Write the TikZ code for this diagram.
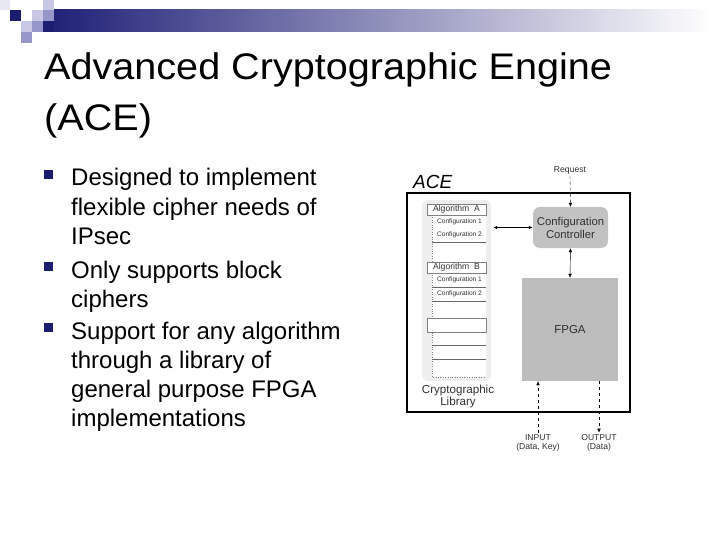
\documentclass[tikz,border=0pt]{standalone}
\usepackage{fontspec}
\setmainfont{Liberation Sans}
\usetikzlibrary{positioning,arrows.meta,calc}
\newcommand\fsz[2]{\fontsize{#1}{#2}\selectfont}
\definecolor{cnavy}{RGB}{28,28,112}
\definecolor{cbar}{RGB}{30,30,118}
\definecolor{cmid}{RGB}{150,150,200}
\definecolor{clight}{RGB}{200,200,228}
\definecolor{cpale}{RGB}{232,232,242}
\definecolor{cpanel}{RGB}{238,238,238}
\definecolor{cbox}{RGB}{194,194,194}
\definecolor{cfpga}{RGB}{188,188,188}
\definecolor{ctext}{RGB}{48,48,48}

\begin{document}
\begin{tikzpicture}[x=1pt,y=-1pt,
  txtline/.style={anchor=base west,inner sep=0pt,font=\fsz{24}{29}},
  ttlline/.style={anchor=base west,inner sep=0pt,font=\fsz{37}{44},xscale=1.07,transform shape},
  algbox/.style={draw=gray,fill=white,minimum width=59pt,minimum height=11pt,
    inner sep=0pt,font=\fsz{8.6}{9},text=ctext},
  cfg/.style={inner sep=0pt,font=\fsz{6.6}{7},text=ctext},
  rowline/.style={gray!80!black,line width=0.5pt},
  small/.style={inner sep=1.5pt,font=\fsz{8.6}{9.5},text=ctext,align=center},
  arr/.style={-{Latex[length=4pt,width=3.5pt]}},
  twoarr/.style={{Latex[length=4pt,width=3.5pt]}-{Latex[length=4pt,width=3.5pt]}}]
\useasboundingbox (0,0) rectangle (720,540);
% ===== header bar and corner squares =====
\shade[left color=cbar,right color=white] (43,10) rectangle (712,32);
\fill[cpale] (0,0) rectangle (10,10);
\fill[cnavy] (10,10) rectangle (21,21);
\fill[clight] (43,0) rectangle (54,10);
\fill[clight] (32,10) rectangle (43,21);
\fill[cmid] (43,10) rectangle (54,21);
\fill[clight] (21,21) rectangle (32,32);
\fill[cmid] (32,21) rectangle (43,32);
\fill[cnavy] (43,21) rectangle (54,32);
\fill[cmid] (21,32) rectangle (32,43);
% ===== title =====
\node[ttlline] (ttl1) at (44,80) {Advanced Cryptographic Engine};
\node[ttlline] (ttl2) at (44,131) {(ACE)};
% ===== bullets =====
\foreach \yy in {186,278,339}{
  \fill[cnavy] (44,\yy-16) rectangle (53,\yy-7);}
\foreach \yy/\txt in {186/Designed to implement,215/flexible cipher needs of,
  244/IPsec,278/Only supports block,307/ciphers,339/Support for any algorithm,
  368/through a library of,397/general purpose FPGA,426/implementations}{
  \node[txtline] (line\yy) at (71,\yy) {\txt};}
% ===== ACE block =====
\node[anchor=base west,inner sep=0pt,font=\fsz{19}{19}\itshape] (acelbl) at (413,189) {ACE};
\node[draw,line width=2.2pt,minimum width=223pt,minimum height=219pt,inner sep=0pt]
  (ace) at (518.5,302.5) {};
\node[fill=cpanel,rounded corners=6pt,minimum width=69pt,minimum height=181pt,
  inner sep=0pt] (lib) at (456.5,290.5) {};
\fill[white] (432,215) rectangle (486,377);
\draw[dotted,gray] (432,215) -- (432,377) -- (486,377);
\node[algbox] (algA) at (456.5,209.5) {Algorithm\ \ A};
\node[cfg] (cfgA1) at (459.5,222) {Configuration 1};
\node[cfg] (cfgA2) at (459.5,235) {Configuration 2};
\draw[rowline] (432,242) -- (486,242);
\node[algbox] (algB) at (456.5,267.5) {Algorithm\ \ B};
\node[cfg] (cfgB1) at (459.5,280) {Configuration 1};
\draw[rowline] (432,287) -- (486,287);
\node[cfg] (cfgB2) at (459.5,293.5) {Configuration 2};
\draw[rowline] (432,301) -- (486,301);
\node[algbox,minimum height=14pt] (slot) at (456.5,325) {};
\draw[rowline] (432,345) -- (486,345);
\draw[rowline] (432,359) -- (486,359);
\node[inner sep=0pt,font=\fsz{11.6}{12},text=ctext,align=center] (liblbl) at (458,396)
  {Cryptographic\\Library};
\node[fill=cbox,rounded corners=7pt,minimum width=75pt,minimum height=41pt,inner sep=0pt,
  align=center,font=\fsz{11.3}{13},text=ctext] (ctrl) at (570.5,227.5)
  {Configuration\\Controller};
\node[fill=cfpga,minimum width=96pt,minimum height=103pt,inner sep=0pt,
  font=\fsz{11.5}{12},text=ctext] (fpga) at (570,329.5) {FPGA};
% connectors
\node[small] (req) at (570,170) {Request};
\draw[dashed,arr] (req.south) -- (ctrl.north);
\draw[twoarr,line width=1.4pt] (lib.east |- ctrl.west) ++(2,0) -- (ctrl.west);
\draw[twoarr] (ctrl.south) -- (fpga.north);
\node[small] (inlbl) at (538,443) {INPUT\\(Data, Key)};
\node[small] (outlbl) at (599,443) {OUTPUT\\(Data)};
\draw[dashed,arr] (inlbl.north) -- (inlbl.north |- fpga.south);
\draw[dashed,arr] (outlbl.north |- fpga.south) -- (outlbl.north);
\end{tikzpicture}
\end{document}
